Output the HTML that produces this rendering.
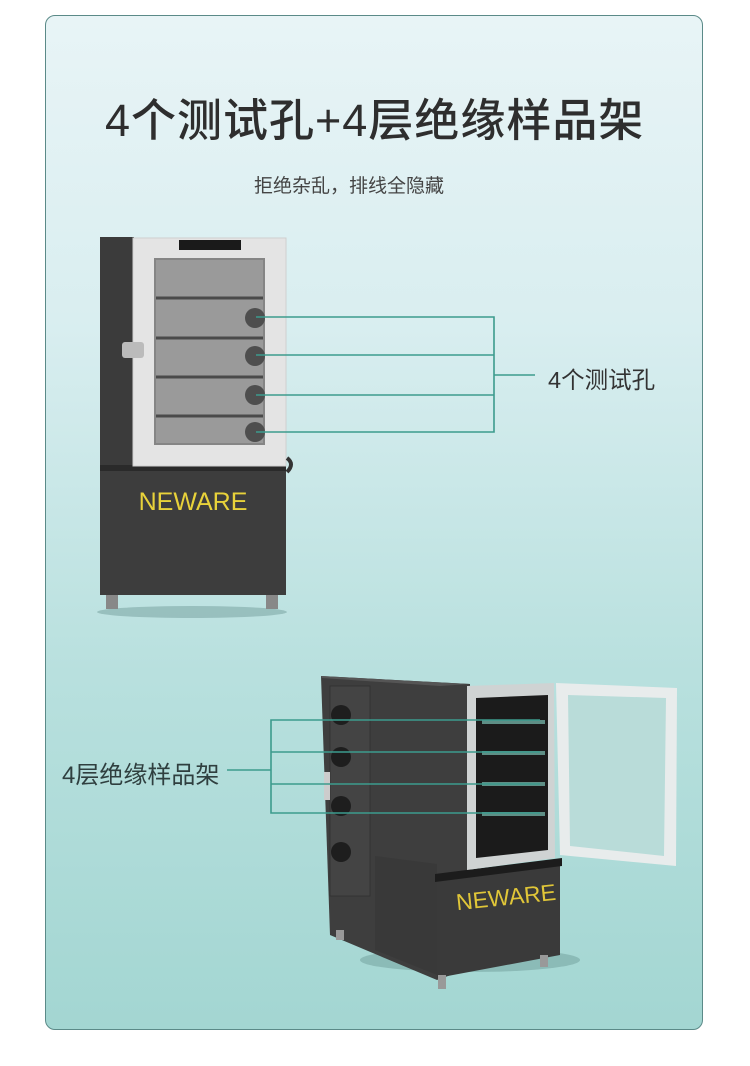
<!DOCTYPE html>
<html><head><meta charset="utf-8"><style>
html,body{margin:0;padding:0;background:#fff;}
body{width:750px;height:1066px;position:relative;overflow:hidden;font-family:"Liberation Sans","Noto Sans CJK SC",sans-serif;}
.card{position:absolute;left:45px;top:15px;width:656px;height:1013px;border:1px solid #5b8a88;border-radius:10px;background:linear-gradient(#e8f4f6 0%,#d9eef0 30%,#b8e0de 65%,#a3d6d2 100%);}
.t{position:absolute;color:#333;white-space:nowrap;}
</style></head><body>
<div class="card"></div>
<div class="t" style="left:105px;top:84px;font-size:45px;color:#2e2e2e;letter-spacing:1px;font-weight:500;">4个测试孔+4层绝缘样品架</div>
<div class="t" style="left:254px;top:171px;font-size:19px;color:#444;">拒绝杂乱，排线全隐藏</div>
<div class="t" style="left:548px;top:361px;font-size:23.5px;color:#333;">4个测试孔</div>
<div class="t" style="left:62px;top:755px;font-size:24px;color:#2f3f3f;">4层绝缘样品架</div>
<svg width="750" height="1066" style="position:absolute;left:0;top:0">
<ellipse cx="192" cy="612" rx="95" ry="6" fill="#7fa8a6" opacity="0.6"/>
<rect x="100" y="237" width="34" height="230" fill="#3b3b3b"/>
<rect x="100" y="465" width="186" height="130" fill="#3d3d3d"/>
<rect x="100" y="465" width="186" height="6" fill="#2a2a2a"/>
<rect x="133" y="238" width="153" height="228" fill="#e4e4e4" stroke="#cfcfcf"/>
<rect x="179" y="240" width="62" height="10" fill="#1a1a1a"/>
<rect x="154" y="258" width="111" height="187" fill="#858585"/>
<rect x="156" y="260" width="107" height="183" fill="#9a9a9a"/>
<g stroke="#4a4a4a" stroke-width="3">
<line x1="156" y1="298" x2="263" y2="298"/><line x1="156" y1="338" x2="263" y2="338"/><line x1="156" y1="377" x2="263" y2="377"/><line x1="156" y1="416" x2="263" y2="416"/></g>
<g fill="#4e4e4e"><circle cx="255" cy="318" r="10"/><circle cx="255" cy="356" r="10"/><circle cx="255" cy="395" r="10"/><circle cx="255" cy="432" r="10"/></g>
<rect x="122" y="342" width="22" height="16" rx="3" fill="#bbb"/>
<path d="M287 458 q8 6 0 14" stroke="#333" stroke-width="4" fill="none"/>
<text x="193" y="510" font-family="Liberation Sans" font-size="25" fill="#e8d23a" text-anchor="middle">NEWARE</text>
<rect x="106" y="595" width="12" height="14" fill="#888"/><rect x="266" y="595" width="12" height="14" fill="#888"/>
<g stroke="#3c9b8d" stroke-width="1.6" fill="none">
<polyline points="256,317 494,317 494,432 256,432"/>
<line x1="256" y1="355" x2="494" y2="355"/><line x1="256" y1="395" x2="494" y2="395"/>
<line x1="494" y1="375" x2="535" y2="375"/></g>
<ellipse cx="470" cy="960" rx="110" ry="12" fill="#6f9d9a" opacity="0.5"/>
<polygon points="321,676 470,684 470,968 437,980 330,935" fill="#3e3e3e"/>
<polygon points="321,676 470,684 440,686 322,678" fill="#555"/>
<rect x="330" y="686" width="40" height="210" fill="#444" stroke="#333"/>
<polygon points="375,856 437,864 437,975 375,950" fill="#393939"/>
<polygon points="437,878 560,862 560,955 437,978" fill="#3a3a3a"/>
<polygon points="435,874 562,858 562,866 435,882" fill="#1c1c1c"/>
<g fill="#1e1e1e"><circle cx="341" cy="715" r="10"/><circle cx="341" cy="757" r="10"/><circle cx="341" cy="806" r="10"/><circle cx="341" cy="852" r="10"/></g>
<rect x="324" y="772" width="6" height="28" fill="#ccc"/>
<polygon points="467,686 554,683 555,858 467,870" fill="#cfd3d3"/>
<polygon points="476,698 548,695 548,850 476,858" fill="#1b1b1b"/>
<g stroke="#5e8f86" stroke-width="4"><line x1="482" y1="722" x2="545" y2="722"/><line x1="482" y1="753" x2="545" y2="753"/><line x1="482" y1="784" x2="545" y2="784"/><line x1="482" y1="814" x2="545" y2="814"/></g>
<polygon points="556,683 677,688 676,866 560,855" fill="#e8ecec"/>
<polygon points="568,695 666,698 664,856 570,846" fill="#b9dcd9"/>
<text x="506" y="905" font-family="Liberation Sans" font-size="23" fill="#e0c638" text-anchor="middle" transform="rotate(-6 506 897)">NEWARE</text>
<rect x="336" y="930" width="8" height="10" fill="#999"/><rect x="438" y="975" width="8" height="14" fill="#999"/><rect x="540" y="955" width="8" height="12" fill="#999"/>
<g stroke="#3c9b8d" stroke-width="1.6" fill="none">
<polyline points="540,720 271,720 271,813 540,813"/>
<line x1="271" y1="752" x2="540" y2="752"/><line x1="271" y1="784" x2="540" y2="784"/>
<line x1="227" y1="770" x2="271" y2="770"/></g>
</svg>
</body></html>
